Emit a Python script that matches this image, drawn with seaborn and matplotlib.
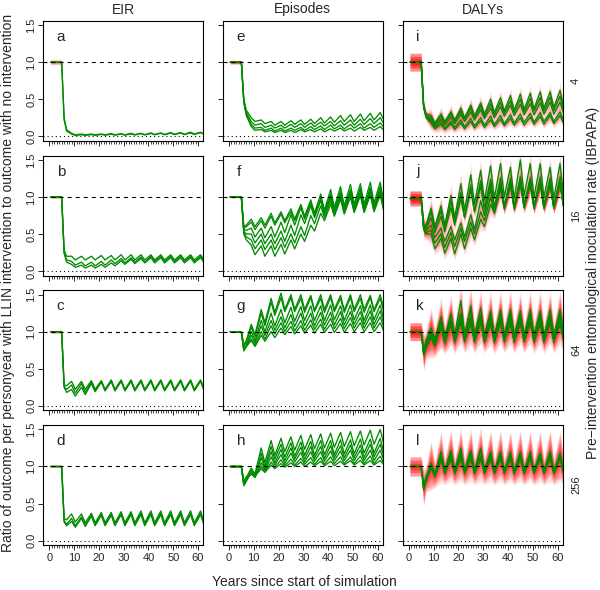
import numpy as np
import pandas as pd
import matplotlib
matplotlib.use("Agg")
import matplotlib.pyplot as plt
import seaborn as sns

# years at which values were read off: start, intervention, drop, one year later,
# then peak / trough of every net cycle
years = [0.5, 5, 6, 7, 9, 10.5, 13, 14.5, 17, 18.5, 21, 22.5, 25, 26.5, 29, 30.5,
         33, 34.5, 37, 38.5, 41, 42.5, 45, 46.5, 49, 50.5, 53, 54.5, 57, 58.5, 61, 62.5]

outcomes = ["EIR", "Episodes", "DALYs"]
eir_levels = ["4", "16", "64", "256"]
panel_letters = [["a", "b", "c", "d"], ["e", "f", "g", "h"], ["i", "j", "k", "l"]]

# ---- EIR ----
a_runs = [
    [1, 1, 0.25, 0.09, 0.04, 0.02, 0.03, 0.02, 0.03, 0.02, 0.03, 0.02, 0.035, 0.02, 0.035, 0.02,
     0.04, 0.022, 0.04, 0.022, 0.045, 0.025, 0.045, 0.025, 0.05, 0.027, 0.05, 0.027, 0.055, 0.03, 0.055, 0.03],
    [1, 1, 0.22, 0.07, 0.03, 0.012, 0.02, 0.012, 0.022, 0.012, 0.025, 0.014, 0.028, 0.015, 0.03, 0.015,
     0.032, 0.017, 0.035, 0.018, 0.038, 0.02, 0.04, 0.02, 0.042, 0.022, 0.045, 0.022, 0.045, 0.024, 0.048, 0.024],
]
b_runs = [
    [1, 1, 0.28, 0.2, 0.2, 0.15, 0.2, 0.15, 0.2, 0.15, 0.21, 0.15, 0.21, 0.15, 0.22, 0.15,
     0.22, 0.15, 0.22, 0.15, 0.22, 0.15, 0.22, 0.15, 0.22, 0.15, 0.22, 0.15, 0.22, 0.15, 0.22, 0.15],
    [1, 1, 0.25, 0.15, 0.13, 0.08, 0.12, 0.07, 0.12, 0.07, 0.13, 0.08, 0.15, 0.1, 0.17, 0.11,
     0.18, 0.12, 0.19, 0.12, 0.2, 0.13, 0.2, 0.13, 0.2, 0.13, 0.2, 0.13, 0.2, 0.13, 0.2, 0.13],
    [1, 1, 0.24, 0.12, 0.09, 0.05, 0.08, 0.04, 0.08, 0.04, 0.09, 0.05, 0.11, 0.07, 0.14, 0.09,
     0.16, 0.1, 0.17, 0.11, 0.18, 0.11, 0.18, 0.11, 0.18, 0.11, 0.18, 0.11, 0.18, 0.11, 0.18, 0.11],
]
c_runs = [
    [1, 1, 0.28, 0.27, 0.33, 0.22, 0.33, 0.22, 0.34, 0.22, 0.34, 0.22, 0.35, 0.22, 0.35, 0.22,
     0.35, 0.22, 0.35, 0.22, 0.35, 0.22, 0.35, 0.22, 0.35, 0.22, 0.35, 0.22, 0.35, 0.22, 0.35, 0.22],
    [1, 1, 0.26, 0.22, 0.28, 0.17, 0.3, 0.18, 0.32, 0.2, 0.33, 0.21, 0.33, 0.21, 0.34, 0.21,
     0.34, 0.21, 0.34, 0.21, 0.34, 0.21, 0.34, 0.21, 0.34, 0.21, 0.34, 0.21, 0.34, 0.21, 0.34, 0.21],
    [1, 1, 0.25, 0.18, 0.22, 0.13, 0.25, 0.15, 0.3, 0.19, 0.32, 0.2, 0.33, 0.2, 0.33, 0.2,
     0.33, 0.2, 0.33, 0.2, 0.33, 0.2, 0.33, 0.2, 0.33, 0.2, 0.33, 0.2, 0.33, 0.2, 0.33, 0.2],
]
d_runs = [
    [1, 1, 0.3, 0.28, 0.36, 0.25, 0.36, 0.24, 0.37, 0.24, 0.38, 0.24, 0.38, 0.24, 0.39, 0.24,
     0.39, 0.24, 0.4, 0.24, 0.4, 0.24, 0.4, 0.24, 0.4, 0.24, 0.4, 0.24, 0.4, 0.24, 0.4, 0.24],
    [1, 1, 0.27, 0.22, 0.3, 0.2, 0.32, 0.21, 0.34, 0.22, 0.35, 0.22, 0.36, 0.22, 0.36, 0.22,
     0.37, 0.22, 0.37, 0.22, 0.37, 0.22, 0.37, 0.22, 0.37, 0.22, 0.37, 0.22, 0.37, 0.22, 0.37, 0.22],
    [1, 1, 0.25, 0.2, 0.26, 0.18, 0.3, 0.19, 0.33, 0.2, 0.34, 0.2, 0.34, 0.2, 0.35, 0.2,
     0.35, 0.2, 0.35, 0.2, 0.35, 0.2, 0.35, 0.2, 0.35, 0.2, 0.35, 0.2, 0.35, 0.2, 0.35, 0.2],
]

# ---- Episodes ----
e_runs = [
    [1, 1, 0.5, 0.35, 0.25, 0.2, 0.22, 0.17, 0.2, 0.15, 0.2, 0.15, 0.21, 0.16, 0.22, 0.16,
     0.23, 0.17, 0.25, 0.18, 0.26, 0.19, 0.28, 0.2, 0.29, 0.2, 0.3, 0.21, 0.31, 0.22, 0.32, 0.22],
    [1, 1, 0.48, 0.32, 0.2, 0.15, 0.17, 0.12, 0.15, 0.11, 0.15, 0.11, 0.16, 0.12, 0.17, 0.12,
     0.18, 0.13, 0.19, 0.14, 0.2, 0.14, 0.21, 0.15, 0.22, 0.15, 0.23, 0.16, 0.24, 0.17, 0.25, 0.17],
    [1, 1, 0.46, 0.3, 0.16, 0.11, 0.12, 0.08, 0.11, 0.07, 0.11, 0.07, 0.11, 0.08, 0.12, 0.08,
     0.13, 0.09, 0.14, 0.09, 0.15, 0.1, 0.15, 0.1, 0.16, 0.11, 0.17, 0.11, 0.17, 0.12, 0.18, 0.12],
    [1, 1, 0.45, 0.28, 0.13, 0.08, 0.09, 0.06, 0.08, 0.05, 0.08, 0.05, 0.08, 0.05, 0.09, 0.06,
     0.09, 0.06, 0.1, 0.06, 0.1, 0.07, 0.11, 0.07, 0.11, 0.07, 0.12, 0.08, 0.12, 0.08, 0.13, 0.08],
]
f_runs = [
    [1, 1, 0.6, 0.62, 0.7, 0.6, 0.72, 0.62, 0.78, 0.65, 0.8, 0.68, 0.84, 0.7, 0.9, 0.74,
     0.96, 0.78, 1.04, 0.82, 1.1, 0.86, 1.14, 0.88, 1.17, 0.9, 1.18, 0.9, 1.2, 0.92, 1.2, 0.92],
    [1, 1, 0.58, 0.6, 0.66, 0.56, 0.68, 0.58, 0.74, 0.62, 0.77, 0.65, 0.8, 0.68, 0.86, 0.72,
     0.92, 0.76, 0.98, 0.8, 1.04, 0.82, 1.08, 0.85, 1.1, 0.86, 1.12, 0.86, 1.13, 0.87, 1.14, 0.87],
    [1, 1, 0.56, 0.55, 0.58, 0.46, 0.58, 0.45, 0.6, 0.46, 0.66, 0.52, 0.76, 0.62, 0.86, 0.7,
     0.92, 0.75, 0.97, 0.78, 1.0, 0.8, 1.04, 0.82, 1.06, 0.83, 1.08, 0.84, 1.1, 0.85, 1.1, 0.85],
    [1, 1, 0.54, 0.5, 0.5, 0.38, 0.5, 0.37, 0.5, 0.37, 0.54, 0.4, 0.62, 0.48, 0.76, 0.64,
     0.88, 0.72, 0.95, 0.76, 1.0, 0.79, 1.03, 0.8, 1.05, 0.82, 1.06, 0.82, 1.07, 0.83, 1.08, 0.83],
    [1, 1, 0.52, 0.46, 0.42, 0.3, 0.42, 0.29, 0.42, 0.29, 0.45, 0.32, 0.5, 0.38, 0.6, 0.48,
     0.75, 0.64, 0.88, 0.72, 0.95, 0.76, 1.0, 0.78, 1.02, 0.8, 1.04, 0.8, 1.05, 0.81, 1.05, 0.81],
    [1, 1, 0.5, 0.42, 0.35, 0.22, 0.34, 0.2, 0.34, 0.2, 0.36, 0.23, 0.42, 0.3, 0.5, 0.4,
     0.62, 0.54, 0.78, 0.68, 0.9, 0.74, 0.97, 0.77, 1.0, 0.79, 1.02, 0.79, 1.03, 0.8, 1.03, 0.8],
]
g_runs = [
    [1, 1, 0.82, 0.88, 1.1, 0.96, 1.3, 1.12, 1.45, 1.26, 1.52, 1.3, 1.5, 1.3, 1.5, 1.3,
     1.49, 1.29, 1.5, 1.3, 1.5, 1.3, 1.49, 1.29, 1.5, 1.3, 1.5, 1.3, 1.49, 1.29, 1.5, 1.3],
    [1, 1, 0.8, 0.86, 1.06, 0.93, 1.25, 1.08, 1.4, 1.22, 1.46, 1.27, 1.46, 1.27, 1.45, 1.26,
     1.46, 1.27, 1.45, 1.26, 1.46, 1.27, 1.45, 1.26, 1.46, 1.27, 1.45, 1.26, 1.46, 1.27, 1.45, 1.26],
    [1, 1, 0.76, 0.82, 1.0, 0.88, 1.15, 1.0, 1.25, 1.08, 1.3, 1.12, 1.33, 1.14, 1.34, 1.15,
     1.35, 1.15, 1.35, 1.15, 1.36, 1.16, 1.35, 1.15, 1.36, 1.16, 1.35, 1.15, 1.36, 1.16, 1.36, 1.16],
    [1, 1, 0.74, 0.8, 0.95, 0.85, 1.08, 0.95, 1.15, 1.02, 1.2, 1.05, 1.23, 1.07, 1.25, 1.08,
     1.25, 1.08, 1.26, 1.09, 1.26, 1.09, 1.27, 1.09, 1.27, 1.1, 1.27, 1.1, 1.28, 1.1, 1.28, 1.1],
    [1, 1, 0.75, 0.8, 0.9, 0.82, 1.0, 0.9, 1.08, 0.97, 1.12, 1.0, 1.14, 1.01, 1.15, 1.02,
     1.16, 1.03, 1.17, 1.03, 1.18, 1.04, 1.18, 1.04, 1.19, 1.05, 1.19, 1.05, 1.2, 1.05, 1.2, 1.05],
    [1, 1, 0.78, 0.8, 0.88, 0.8, 0.95, 0.87, 1.0, 0.92, 1.05, 0.96, 1.07, 0.97, 1.08, 0.98,
     1.09, 0.98, 1.1, 0.99, 1.1, 0.99, 1.11, 0.99, 1.11, 1.0, 1.12, 1.0, 1.12, 1.0, 1.12, 1.0],
]
h_runs = [
    [1, 1, 0.8, 0.85, 0.98, 0.9, 1.25, 1.05, 1.35, 1.15, 1.38, 1.2, 1.4, 1.22, 1.42, 1.23,
     1.43, 1.24, 1.44, 1.25, 1.45, 1.26, 1.46, 1.27, 1.47, 1.28, 1.48, 1.29, 1.49, 1.3, 1.5, 1.3],
    [1, 1, 0.76, 0.82, 0.95, 0.88, 1.18, 1.0, 1.27, 1.1, 1.3, 1.13, 1.32, 1.14, 1.33, 1.15,
     1.34, 1.15, 1.35, 1.16, 1.35, 1.16, 1.36, 1.17, 1.36, 1.17, 1.37, 1.18, 1.37, 1.18, 1.38, 1.18],
    [1, 1, 0.74, 0.8, 0.92, 0.86, 1.12, 0.97, 1.2, 1.05, 1.23, 1.08, 1.25, 1.1, 1.26, 1.1,
     1.27, 1.11, 1.27, 1.11, 1.28, 1.12, 1.28, 1.12, 1.29, 1.12, 1.29, 1.12, 1.3, 1.13, 1.3, 1.13],
    [1, 1, 0.75, 0.82, 0.9, 0.85, 1.05, 0.95, 1.13, 1.02, 1.16, 1.04, 1.18, 1.06, 1.19, 1.06,
     1.2, 1.07, 1.2, 1.07, 1.21, 1.08, 1.21, 1.08, 1.22, 1.08, 1.22, 1.08, 1.22, 1.08, 1.22, 1.08],
    [1, 1, 0.78, 0.84, 0.9, 0.86, 1.0, 0.93, 1.06, 0.99, 1.09, 1.01, 1.1, 1.02, 1.11, 1.03,
     1.12, 1.03, 1.12, 1.03, 1.13, 1.04, 1.13, 1.04, 1.13, 1.04, 1.14, 1.04, 1.14, 1.04, 1.14, 1.04],
    [1, 1, 0.8, 0.86, 0.9, 0.87, 0.97, 0.92, 1.02, 0.97, 1.04, 0.99, 1.05, 1.0, 1.06, 1.0,
     1.06, 1.01, 1.07, 1.01, 1.07, 1.01, 1.07, 1.02, 1.08, 1.02, 1.08, 1.02, 1.08, 1.02, 1.08, 1.02],
]

# ---- DALYs ----
i_runs = [
    [1, 1, 0.42, 0.3, 0.28, 0.18, 0.3, 0.2, 0.33, 0.22, 0.38, 0.25, 0.42, 0.28, 0.45, 0.3,
     0.5, 0.32, 0.52, 0.34, 0.55, 0.35, 0.57, 0.36, 0.58, 0.37, 0.6, 0.38, 0.6, 0.39, 0.62, 0.4],
    [1, 1, 0.41, 0.28, 0.25, 0.16, 0.27, 0.18, 0.3, 0.2, 0.34, 0.23, 0.38, 0.25, 0.41, 0.27,
     0.44, 0.29, 0.46, 0.31, 0.48, 0.32, 0.5, 0.33, 0.51, 0.34, 0.52, 0.34, 0.53, 0.35, 0.54, 0.35],
    [1, 1, 0.4, 0.27, 0.22, 0.14, 0.23, 0.15, 0.26, 0.17, 0.3, 0.2, 0.33, 0.22, 0.36, 0.24,
     0.38, 0.25, 0.4, 0.27, 0.42, 0.28, 0.43, 0.29, 0.44, 0.29, 0.45, 0.3, 0.46, 0.3, 0.46, 0.3],
    [1, 1, 0.39, 0.25, 0.18, 0.1, 0.16, 0.09, 0.17, 0.09, 0.18, 0.1, 0.2, 0.11, 0.21, 0.12,
     0.22, 0.13, 0.23, 0.14, 0.24, 0.15, 0.25, 0.15, 0.26, 0.16, 0.27, 0.16, 0.28, 0.17, 0.28, 0.17],
    [1, 1, 0.39, 0.26, 0.2, 0.12, 0.19, 0.11, 0.2, 0.12, 0.22, 0.13, 0.24, 0.14, 0.25, 0.15,
     0.27, 0.16, 0.28, 0.17, 0.29, 0.18, 0.3, 0.19, 0.31, 0.19, 0.32, 0.2, 0.32, 0.2, 0.33, 0.2],
]
j_runs = [
    [0.98, 0.98, 0.62, 0.62, 0.85, 0.6, 0.88, 0.62, 1.02, 0.72, 1.18, 0.82, 1.3, 0.9, 1.36, 0.95,
     1.42, 0.98, 1.45, 1.0, 1.4, 0.98, 1.5, 1.02, 1.45, 1.0, 1.45, 1.0, 1.4, 0.98, 1.45, 1.0],
    [0.98, 0.98, 0.6, 0.6, 0.8, 0.57, 0.82, 0.58, 0.95, 0.66, 1.06, 0.73, 1.16, 0.8, 1.22, 0.85,
     1.24, 0.86, 1.26, 0.88, 1.25, 0.87, 1.28, 0.9, 1.26, 0.88, 1.27, 0.89, 1.25, 0.88, 1.27, 0.89],
    [0.98, 0.98, 0.59, 0.58, 0.72, 0.52, 0.74, 0.53, 0.86, 0.62, 0.98, 0.72, 1.1, 0.8, 1.15, 0.82,
     1.17, 0.83, 1.18, 0.84, 1.17, 0.83, 1.19, 0.85, 1.18, 0.84, 1.18, 0.84, 1.17, 0.84, 1.18, 0.84],
    [0.98, 0.98, 0.58, 0.55, 0.62, 0.45, 0.58, 0.4, 0.6, 0.42, 0.65, 0.46, 0.76, 0.56, 0.95, 0.75,
     1.1, 0.84, 1.18, 0.86, 1.2, 0.87, 1.22, 0.88, 1.2, 0.87, 1.21, 0.87, 1.2, 0.86, 1.21, 0.87],
    [0.98, 0.98, 0.57, 0.52, 0.55, 0.38, 0.5, 0.32, 0.52, 0.33, 0.58, 0.4, 0.66, 0.5, 0.8, 0.68,
     1.0, 0.8, 1.15, 0.85, 1.2, 0.86, 1.2, 0.86, 1.19, 0.85, 1.2, 0.86, 1.19, 0.85, 1.2, 0.86],
    [0.98, 0.98, 0.56, 0.5, 0.5, 0.3, 0.44, 0.24, 0.44, 0.23, 0.5, 0.3, 0.58, 0.42, 0.7, 0.6,
     0.9, 0.78, 1.1, 0.85, 1.18, 0.86, 1.2, 0.87, 1.2, 0.86, 1.2, 0.86, 1.2, 0.86, 1.2, 0.86],
]
k_runs = [
    [1, 1, 0.75, 0.85, 1.02, 0.86, 1.15, 0.9, 1.25, 0.95, 1.42, 0.96, 1.3, 0.95, 1.32, 0.95,
     1.25, 0.94, 1.3, 0.96, 1.25, 0.94, 1.28, 0.95, 1.3, 0.96, 1.25, 0.93, 1.3, 0.95, 1.26, 0.95],
    [1, 1, 0.7, 0.8, 0.98, 0.82, 1.1, 0.88, 1.15, 0.9, 1.2, 0.92, 1.2, 0.9, 1.22, 0.91,
     1.19, 0.9, 1.21, 0.91, 1.2, 0.9, 1.2, 0.9, 1.22, 0.91, 1.2, 0.9, 1.21, 0.9, 1.2, 0.9],
    [1, 1, 0.72, 0.82, 0.95, 0.85, 1.05, 0.87, 1.1, 0.88, 1.12, 0.88, 1.1, 0.88, 1.12, 0.88,
     1.1, 0.87, 1.12, 0.88, 1.1, 0.88, 1.11, 0.88, 1.12, 0.88, 1.1, 0.87, 1.12, 0.88, 1.1, 0.88],
    [1, 1, 0.68, 0.78, 0.92, 0.8, 1.08, 0.84, 1.12, 0.85, 1.15, 0.86, 1.14, 0.85, 1.15, 0.85,
     1.13, 0.85, 1.15, 0.86, 1.14, 0.85, 1.15, 0.86, 1.14, 0.85, 1.15, 0.85, 1.14, 0.85, 1.15, 0.86],
    [1, 1, 0.72, 0.88, 1.05, 0.9, 1.2, 0.95, 1.18, 0.94, 1.25, 0.95, 1.35, 0.97, 1.2, 0.94,
     1.28, 0.95, 1.22, 0.94, 1.3, 0.96, 1.2, 0.94, 1.22, 0.94, 1.28, 0.95, 1.2, 0.94, 1.3, 0.96],
]
l_runs = [
    [1, 1, 0.72, 0.85, 1.05, 0.9, 1.2, 0.95, 1.18, 0.95, 1.25, 0.95, 1.22, 0.95, 1.25, 0.96,
     1.18, 0.94, 1.2, 0.95, 1.15, 0.94, 1.2, 0.95, 1.15, 0.93, 1.18, 0.94, 1.2, 0.95, 1.15, 0.94],
    [1, 1, 0.68, 0.82, 1.0, 0.88, 1.12, 0.92, 1.15, 0.92, 1.15, 0.92, 1.15, 0.92, 1.14, 0.92,
     1.15, 0.92, 1.14, 0.92, 1.15, 0.92, 1.14, 0.92, 1.15, 0.92, 1.14, 0.92, 1.15, 0.92, 1.14, 0.92],
    [1, 1, 0.7, 0.8, 0.98, 0.86, 1.08, 0.9, 1.1, 0.9, 1.1, 0.9, 1.1, 0.9, 1.1, 0.9,
     1.1, 0.9, 1.1, 0.9, 1.1, 0.9, 1.1, 0.9, 1.1, 0.9, 1.1, 0.9, 1.1, 0.9, 1.1, 0.9],
    [1, 1, 0.74, 0.86, 1.02, 0.9, 1.15, 0.94, 1.22, 0.94, 1.18, 0.93, 1.2, 0.94, 1.22, 0.94,
     1.2, 0.93, 1.18, 0.93, 1.2, 0.94, 1.18, 0.93, 1.2, 0.94, 1.18, 0.93, 1.2, 0.93, 1.18, 0.93],
]

# spread of the single-seed runs (red) round each green line: pre-intervention, at peaks, at troughs
red_spread = {
    "a": [0.035, 0.0, 0.0], "b": [0.015, 0.0, 0.0], "c": [0.02, 0.0, 0.0], "d": [0.01, 0.0, 0.0],
    "e": [0.025, 0.0, 0.0], "f": [0.01, 0.0, 0.0], "g": [0.01, 0.0, 0.0], "h": [0.01, 0.0, 0.0],
    "i": [0.12, 0.1, 0.05], "j": [0.1, 0.15, 0.08], "k": [0.12, 0.28, 0.15], "l": [0.13, 0.3, 0.15],
}

runs = {"a": a_runs, "b": b_runs, "c": c_runs, "d": d_runs,
        "e": e_runs, "f": f_runs, "g": g_runs, "h": h_runs,
        "i": i_runs, "j": j_runs, "k": k_runs, "l": l_runs}

for key, rr in runs.items():
    for run in rr:
        assert len(run) == len(years), (key, len(run))

GREEN = "#008B00"

sns.set_style("ticks")
plt.rcParams["font.family"] = ["Liberation Sans", "DejaVu Sans"]
plt.rcParams["lines.scale_dashes"] = False

fig = plt.figure(figsize=(6.0, 5.9), dpi=100)
W, H = 600.0, 590.0
col_left = [43.3, 223.0, 402.8]
row_top = [20.7, 155.5, 290.2, 425.0]
pw, ph = 159.7, 120.0

for c, outcome in enumerate(outcomes):
    for r, level in enumerate(eir_levels):
        letter = panel_letters[c][r]
        ax = fig.add_axes([col_left[c] / W, 1 - (row_top[r] + ph) / H, pw / W, ph / H])
        vals = np.array(runs[letter], dtype=float)

        # red haze of the individual runs round each line
        pre, at_peak, at_trough = red_spread[letter]
        spread = np.array([pre, pre, (at_peak + at_trough) / 2, at_trough] + [at_peak, at_trough] * 14)
        if spread.max() > 0:
            for run in vals:
                for k in (1.0, 0.65, 0.35):
                    ax.fill_between(years, run - spread * k, run + spread * k, color="#ff0000",
                                    alpha=0.11, lw=0, zorder=1)

        df = pd.DataFrame({
            "year": np.tile(years, len(vals)),
            "ratio": vals.ravel(),
            "run": np.repeat(np.arange(len(vals)), len(years)),
        })
        sns.lineplot(data=df, x="year", y="ratio", units="run", estimator=None,
                     color=GREEN, linewidth=0.95, legend=False, ax=ax, zorder=3)

        ax.axhline(1.0, color="black", lw=0.8, ls=(0, (2.9, 2.9)), zorder=4)
        ax.axhline(0.0, color="black", lw=0.8, ls=(0, (0.75, 2.2)), zorder=4)

        ax.set_xlim(-2.4, 62.0)
        ax.set_ylim(-0.06, 1.56)
        ax.set_xlabel("")
        ax.set_ylabel("")
        ax.set_xticks(range(0, 61, 10))
        ax.set_xticks(range(0, 61), minor=True)
        ax.set_yticks([0, 0.5, 1.0, 1.5])
        ax.tick_params(axis="x", which="major", length=3.6, width=0.7, labelsize=8, pad=2)
        ax.tick_params(axis="x", which="minor", length=2.0, width=0.6)
        ax.tick_params(axis="y", length=3.6, width=0.7, labelsize=8, pad=1.5)
        if c == 0:
            ax.set_yticklabels(["0.0", "0.5", "1.0", "1.5"], rotation=90, va="center")
        else:
            ax.tick_params(axis="y", labelleft=False)
        if r == 3:
            ax.set_xticklabels([str(v) for v in range(0, 61, 10)])
        else:
            ax.tick_params(axis="x", labelbottom=False)
        for sp in ax.spines.values():
            sp.set_visible(True)
            sp.set_linewidth(0.8)
            sp.set_color("black")

        ax.text(13.5 / pw, 1 - 20.0 / ph, letter, transform=ax.transAxes,
                ha="left", va="baseline", fontsize=11)

        if r == 0:
            fig.text((col_left[c] + pw / 2) / W, 1 - 13.5 / H, outcome,
                     ha="center", va="baseline", fontsize=10)
        if c == 2:
            fig.text(576 / W, 1 - (row_top[r] + ph / 2) / H, level, rotation=90,
                     ha="center", va="center", fontsize=8)

fig.text(304 / W, 1 - 586 / H, "Years since start of simulation",
         ha="center", va="baseline", fontsize=10)
fig.text(8.5 / W, 1 - 283 / H,
         "Ratio of outcome per personyear with LLIN intervention to outcome with no intervention",
         rotation=90, ha="center", va="center", fontsize=10)
fig.text(593 / W, 1 - 283 / H,
         "Pre\u2212intervention entomological inoculation rate (IBPAPA)",
         rotation=90, ha="center", va="center", fontsize=10)

fig.savefig("out.png", dpi=100)
